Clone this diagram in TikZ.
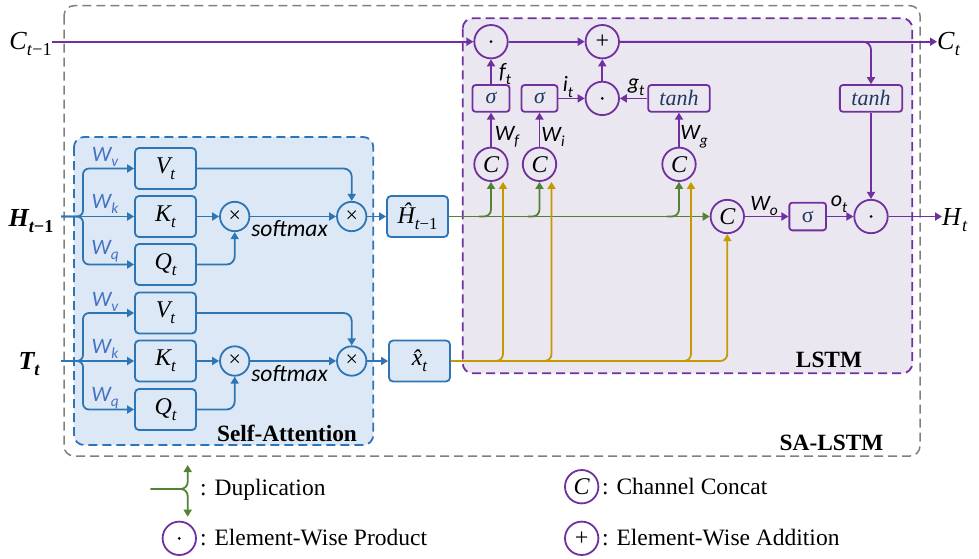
\documentclass[tikz,border=0pt]{standalone}
\usepackage{fontspec}
\setmainfont{Liberation Serif}
\newfontfamily\calfont{Carlito}
\usetikzlibrary{arrows.meta,calc}
\definecolor{pur}{HTML}{7030A0}
\definecolor{lstmfill}{HTML}{EBE7F0}
\definecolor{sablue}{HTML}{2E75B6}
\definecolor{safill}{HTML}{DCE8F5}
\definecolor{wblue}{HTML}{4472C4}
\definecolor{grn}{HTML}{548235}
\definecolor{ylw}{HTML}{C49A00}
\definecolor{navy}{HTML}{1F3864}
\definecolor{outgray}{HTML}{808080}
\newcommand\fs[1]{\fontsize{#1}{#1}\selectfont}
\newcommand\sbs[1]{\raisebox{-0.25em}{\scalebox{0.7}{#1}}}
\begin{document}
\begin{tikzpicture}[x=1pt,y=-1pt,
  tip/.style={-{Triangle[length=7pt,width=8pt]}},
  pa/.style={draw=pur,line width=1.8pt,tip},
  ba/.style={draw=sablue,line width=1.8pt,tip},
  ga/.style={draw=grn,line width=1.8pt,tip},
  ya/.style={draw=ylw,line width=1.8pt,tip},
  sabox/.style={draw=sablue,fill=safill,line width=1.8pt,rounded corners=4pt,minimum width=61pt,minimum height=41pt,inner sep=0pt,font=\fs{24}\itshape},
  xcirc/.style={circle,draw=sablue,line width=1.8pt,minimum size=29.4pt,inner sep=0pt,font=\fs{22}},
  pcirc/.style={circle,draw=pur,line width=1.8pt,minimum size=33.4pt,inner sep=0pt,font=\fs{24}},
  pbox/.style={draw=pur,line width=1.8pt,rounded corners=3pt,minimum height=26.7pt,inner sep=0pt,font=\fs{22},text=navy},
  pdot/.style={path picture={\fill (path picture bounding box.center) circle (1.5pt);}},
  wl/.style={font=\calfont\itshape\fs{22},text=wblue,inner sep=0pt},
  kl/.style={font=\calfont\itshape\fs{22},inner sep=0pt},
  sm/.style={font=\calfont\itshape\fs{23.5},inner sep=0pt},
  bl/.style={font=\bfseries\fs{23.3},inner sep=0pt},
  lg/.style={font=\fs{23.5},inner sep=0pt,anchor=base west},
  big/.style={font=\fs{26},inner sep=0pt}
]
\useasboundingbox (0,0) rectangle (979,558);
% frames
\draw[outgray,line width=1.5pt,dash pattern=on 9pt off 5pt,rounded corners=10pt] (64,5.7) rectangle (920,456);
\draw[sablue,fill=safill,line width=1.8pt,dash pattern=on 9pt off 5pt,rounded corners=10pt] (74,137) rectangle (373.3,445);
\draw[pur,fill=lstmfill,line width=1.8pt,dash pattern=on 9pt off 5pt,rounded corners=10pt] (462.7,18.3) rectangle (912.3,373.3);
\node[bl] (lblsa) at (287,433) {Self-Attention};
\node[bl] (lbllstm) at (829,360) {LSTM};
\node[bl] (lblsalstm) at (831.5,443) {SA-LSTM};

% input labels
\node[big] (Cm1) at (30.5,44) {\textit{C}\sbs{\textit{t}−1}};
\node[big] (Hm1) at (31,221) {\bfseries\itshape H\sbs{\textit{t}\upshape−1}};
\node[big] (Tt) at (29,364) {\bfseries\itshape T\sbs{\textit{t}}};
\node[big,anchor=west] (Ct) at (937,44) {\textit{C}\sbs{\textit{t}}};
\node[big,anchor=west] (Ht) at (942,220) {\textit{H}\sbs{\textit{t}}};
\coordinate (hin) at (61,216.5);
\coordinate (tin) at (61,361);

% self-attention, top
\node[sabox] (V1) at (165.5,168.5) {V\sbs{t}};
\node[sabox] (K1) at (165.5,216.5) {K\sbs{t}};
\node[sabox] (Q1) at (165.5,264.5) {Q\sbs{t}};
\node[xcirc] (m1) at (234.7,216.5) {×};
\node[xcirc] (m2) at (351.7,216.5) {×};
\node[sabox] (Hh) at (417.5,216.5) {Ĥ\sbs{\textit{t}\upshape−1}};
\draw[ba] (hin) -- (K1);
\draw[ba,rounded corners=6pt] (hin) -- ++(22,0) |- (V1.west);
\draw[ba,rounded corners=6pt] (hin) -- ++(22,0) |- (Q1.west);
\node[wl] (wv1) at (105,157) {W\sbs{v}};
\node[wl] (wk1) at (105,204) {W\sbs{k}};
\node[wl] (wq1) at (105,251) {W\sbs{q}};
\draw[ba] (K1) -- (m1);
\draw[ba,rounded corners=8pt] (Q1.east) -| (m1.south);
\draw[ba,rounded corners=8pt] (V1.east) -| (m2.north);
\draw[ba] (m1) -- (m2);
\draw[ba] (m2) -- (Hh);
\node[sm] (sm1) at (289.5,229) {softmax};

% self-attention, bottom
\node[sabox] (V2) at (165.5,313) {V\sbs{t}};
\node[sabox] (K2) at (165.5,361) {K\sbs{t}};
\node[sabox] (Q2) at (165.5,409.5) {Q\sbs{t}};
\node[xcirc] (m3) at (234.7,361) {×};
\node[xcirc] (m4) at (351.7,361) {×};
\node[sabox] (xh) at (419.5,361) {x̂\sbs{t}};
\draw[ba] (tin) -- (K2);
\draw[ba,rounded corners=6pt] (tin) -- ++(22,0) |- (V2.west);
\draw[ba,rounded corners=6pt] (tin) -- ++(22,0) |- (Q2.west);
\node[wl] (wv2) at (105,302) {W\sbs{v}};
\node[wl] (wk2) at (105,349) {W\sbs{k}};
\node[wl] (wq2) at (105,398) {W\sbs{q}};
\draw[ba] (K2) -- (m3);
\draw[ba,rounded corners=8pt] (Q2.east) -| (m3.south);
\draw[ba,rounded corners=8pt] (V2.east) -| (m4.north);
\draw[ba] (m3) -- (m4);
\draw[ba] (m4) -- (xh);
\node[sm] (sm2) at (289.5,373.5) {softmax};

% LSTM
\node[pcirc,pdot] (dotf) at (491,41.7) {};
\node[pcirc] (plus) at (602.3,41.7) {+};
\node[pbox,minimum width=37pt] (sigf) at (491,98.4) {\itshape σ};
\node[pbox,minimum width=36pt] (sigi) at (539.5,98.4) {\itshape σ};
\node[pcirc,pdot] (dotig) at (602.3,98.4) {};
\node[pbox,minimum width=61.6pt] (tanhg) at (679,98.4) {\itshape tanh};
\node[pbox,minimum width=62.3pt] (tanho) at (871,98.4) {\itshape tanh};
\node[pcirc] (Cf) at (491,164.3) {\itshape C};
\node[pcirc] (Ci) at (539.5,164.3) {\itshape C};
\node[pcirc] (Cg) at (679,164.3) {\itshape C};
\node[pcirc] (Co) at (727.3,216.5) {\itshape C};
\node[pbox,minimum width=36.7pt,minimum height=27.7pt] (sigo) at (807.7,216.5) {σ};
\node[pcirc,pdot] (doto) at (871,216.5) {};

\draw[pa] (Cm1.east |- dotf) -- (dotf);
\draw[pa] (dotf) -- (plus);
\draw[pa] (plus) -- (Ct.west |- plus);
\draw[pa,rounded corners=8pt] (plus.east) -| (tanho.north);
\draw[pa] (sigf) -- (dotf);
\draw[pa] (Cf) -- (sigf);
\draw[pa] (Ci) -- (sigi);
\draw[pa] (Cg) -- (tanhg);
\draw[pa] (sigi) -- (dotig);
\draw[pa] (tanhg) -- (dotig);
\draw[pa] (dotig) -- (plus);
\draw[pa] (tanho) -- (doto);
\draw[pa] (Co) -- (sigo);
\draw[pa] (sigo) -- (doto);
\draw[pa] (doto) -- (Ht.west |- doto);

\node[kl] (ft) at (505,74) {f\sbs{t}};
\node[kl] (it) at (568,87) {i\sbs{t}};
\node[kl] (gt) at (636,87) {g\sbs{t}};
\node[kl] (wf) at (507,137) {W\sbs{f}};
\node[kl] (wi) at (553,137) {W\sbs{i}};
\node[kl] (wg) at (694,137) {W\sbs{g}};
\node[kl] (wo) at (764,206) {W\sbs{o}};
\node[kl] (ot) at (839,204) {o\sbs{t}};

% duplication (green) and input (yellow)
\draw[ga] (Hh) -- (Co);
\foreach \n in {Cf,Ci,Cg}
  \draw[ga,rounded corners=7pt] ($(\n.south |- Hh.east)+(-12,0)$) -| (\n.south);
\draw[ya,rounded corners=7pt] (xh.east) -| (Co.south);
\foreach \n in {Cf,Ci,Cg}
  \draw[ya,rounded corners=7pt] ($(\n.south |- xh.east)+(5,0)$) -| ($(\n.south)+(12,0)$);

% legend
\coordinate (dl) at (150.7,489);
\coordinate (du) at (187.7,465);
\coordinate (dd) at (187.7,516.7);
\draw[ga,rounded corners=7pt] (dl) -| (du);
\draw[ga,rounded corners=7pt] (dl) -| (dd);
\node[lg] (ldup) at (200,495) {: Duplication};
\node[pcirc,pdot] (ldot) at (179.3,538.3) {};
\node[lg] (lprod) at (200,545) {: Element-Wise Product};
\node[pcirc] (lC) at (581.7,486.7) {\itshape C};
\node[lg] (lcc) at (602,494) {: Channel Concat};
\node[pcirc] (lplus) at (581.7,538.3) {+};
\node[lg] (ladd) at (602,545) {: Element-Wise Addition};
\end{tikzpicture}
\end{document}
